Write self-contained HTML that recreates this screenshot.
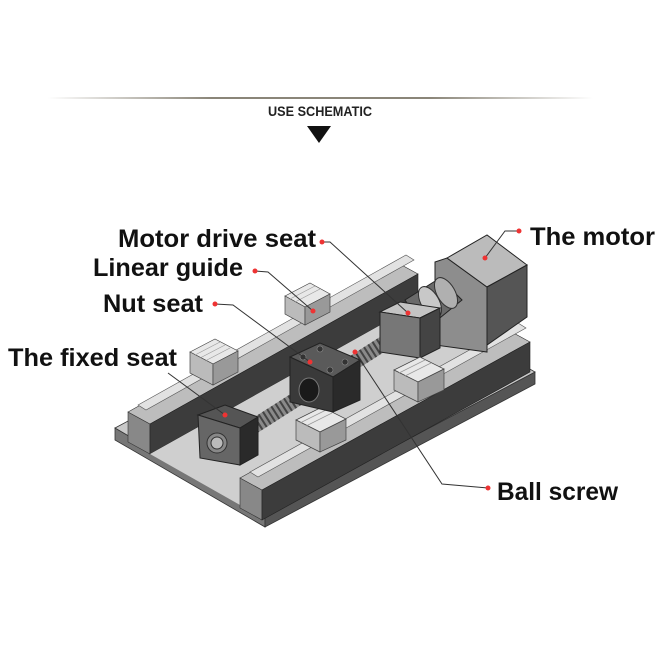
<!DOCTYPE html>
<html><head><meta charset="utf-8"><style>
html,body{margin:0;padding:0;background:#fff;}
svg{display:block}
.t{font-family:"Liberation Sans",sans-serif;font-weight:bold;fill:#111;}
.ld{stroke:#333;stroke-width:1;fill:none}
.dot{fill:#e33}
</style></head><body>
<svg width="672" height="672" viewBox="0 0 672 672" xmlns="http://www.w3.org/2000/svg">
<defs>
<linearGradient id="hl" x1="0" x2="1"><stop offset="0" stop-color="#fff"/><stop offset="0.3" stop-color="#8a8578"/><stop offset="0.7" stop-color="#8a8578"/><stop offset="1" stop-color="#fff"/></linearGradient>
</defs>
<rect x="48" y="97" width="545" height="2" fill="url(#hl)"/>
<text x="268" y="116" class="t" font-size="14" textLength="104" lengthAdjust="spacingAndGlyphs" style="fill:#222">USE SCHEMATIC</text>
<polygon points="307,126 331,126 319,143" fill="#111"/>

<!-- base plate -->
<polygon points="115,428 265,515 265,527 115,440" fill="#777" stroke="#333" stroke-width="0.8"/>
<polygon points="265,515 535,372 535,384 265,527" fill="#555" stroke="#333" stroke-width="0.8"/>
<polygon points="115,428 383,285 535,372 265,515" fill="#c9c9c9" stroke="#333" stroke-width="0.8"/>
<!-- back support -->
<polygon points="128,412 150,424 150,454 128,442" fill="#888" stroke="#333" stroke-width="0.6"/>
<polygon points="128,412 396,262 418,274 150,424" fill="#bdbdbd" stroke="#333" stroke-width="0.6"/>
<polygon points="150,424 418,274 418,304 150,454" fill="#3c3c3c" stroke="#222" stroke-width="0.6"/>
<!-- inner floor -->
<polygon points="150,454 418,304 505,354 240,505" fill="#cfcfcf"/>
<!-- front support -->
<polygon points="240,478 262,490 262,520 240,508" fill="#888" stroke="#333" stroke-width="0.6"/>
<polygon points="240,478 508,330 530,342 262,490" fill="#bdbdbd" stroke="#333" stroke-width="0.6"/>
<polygon points="262,490 530,342 530,372 262,520" fill="#3c3c3c" stroke="#222" stroke-width="0.6"/>
<!-- rails -->
<polygon points="138,405 406,255 414,260 146,410" fill="#e2e2e2" stroke="#555" stroke-width="0.6"/>
<polygon points="250,472 518,323 526,328 258,477" fill="#e2e2e2" stroke="#555" stroke-width="0.6"/>
<!-- motor -->
<polygon points="435,262 447,258 487,287 487,352 435,345" fill="#8d8d8d" stroke="#222"/>
<polygon points="447,258 487,235 527,265 487,287" fill="#bbb" stroke="#222"/>
<polygon points="487,287 527,265 527,317 487,345" fill="#555" stroke="#222"/>
<!-- coupling -->
<polygon points="405,300 440,278 462,300 425,330" fill="#6a6a6a" stroke="#222"/>
<ellipse cx="430" cy="302" rx="9" ry="17" fill="#c8c8c8" stroke="#333" transform="rotate(-30 430 302)"/>
<ellipse cx="446" cy="293" rx="9" ry="17" fill="#b0b0b0" stroke="#333" transform="rotate(-30 446 293)"/>
<!-- screw -->
<line x1="245" y1="432" x2="400" y2="333" stroke="#8a8a8a" stroke-width="15" stroke-linecap="round"/>
<line x1="245" y1="432" x2="400" y2="333" stroke="#444" stroke-width="15" stroke-dasharray="2 3"/>
<!-- drive seat -->
<polygon points="380,312 400,302 440,308 420,318" fill="#c4c4c4" stroke="#222"/>
<polygon points="380,312 420,318 420,358 380,352" fill="#777" stroke="#222"/>
<polygon points="420,318 440,308 440,348 420,358" fill="#444" stroke="#222"/>
<!-- blocks on rails -->
<g stroke="#444" stroke-width="0.7">
<polygon points="285,296 310,283 330,294 305,307" fill="#e8e8e8"/><polygon points="285,296 305,307 305,325 285,314" fill="#bbb"/><polygon points="305,307 330,294 330,312 305,325" fill="#999"/>
<polygon points="190,352 215,339 238,351 213,364" fill="#e8e8e8"/><polygon points="190,352 213,364 213,385 190,373" fill="#bbb"/><polygon points="213,364 238,351 238,372 213,385" fill="#999"/>
<polygon points="296,420 322,407 346,419 320,432" fill="#e8e8e8"/><polygon points="296,420 320,432 320,452 296,440" fill="#bbb"/><polygon points="320,432 346,419 346,440 320,452" fill="#999"/>
<polygon points="394,370 420,357 444,369 418,382" fill="#e8e8e8"/><polygon points="394,370 418,382 418,402 394,390" fill="#bbb"/><polygon points="418,382 444,369 444,390 418,402" fill="#999"/>
<path d="M195,355 L220,342 M200,358 L225,345 M205,361 L230,348 M290,299 L315,286 M295,302 L320,289 M300,423 L326,410 M306,426 L332,413 M399,373 L425,360 M405,376 L431,363" stroke="#999" fill="none"/>
</g>
<!-- nut seat -->
<polygon points="290,357 320,343 360,360 333,377" fill="#5a5a5a" stroke="#222"/>
<polygon points="290,357 333,377 333,412 290,402" fill="#3a3a3a" stroke="#222"/>
<polygon points="333,377 360,360 360,400 333,412" fill="#2a2a2a" stroke="#222"/>
<ellipse cx="309" cy="390" rx="10" ry="12" fill="#1a1a1a" stroke="#777"/>
<g fill="#333" stroke="#888" stroke-width="0.6"><circle cx="303" cy="357" r="3"/><circle cx="320" cy="349" r="3"/><circle cx="345" cy="362" r="3"/><circle cx="330" cy="370" r="3"/></g>
<!-- fixed seat -->
<polygon points="198,415 225,405 258,417 240,428" fill="#555" stroke="#222"/>
<polygon points="198,415 240,428 240,465 200,458" fill="#666" stroke="#222"/>
<polygon points="240,428 258,417 258,455 240,465" fill="#2a2a2a" stroke="#222"/>
<circle cx="217" cy="443" r="10" fill="#888" stroke="#333"/>
<circle cx="217" cy="443" r="6" fill="#bbb" stroke="#333"/>

<!-- labels -->
<text x="118" y="247" class="t" font-size="25" textLength="198" lengthAdjust="spacingAndGlyphs">Motor drive seat</text>
<text x="530" y="245" class="t" font-size="25" textLength="125" lengthAdjust="spacingAndGlyphs">The motor</text>
<text x="93" y="276" class="t" font-size="25" textLength="150" lengthAdjust="spacingAndGlyphs">Linear guide</text>
<text x="103" y="312" class="t" font-size="25" textLength="100" lengthAdjust="spacingAndGlyphs">Nut seat</text>
<text x="8" y="366" class="t" font-size="25" textLength="169" lengthAdjust="spacingAndGlyphs">The fixed seat</text>
<text x="497" y="500" class="t" font-size="25" textLength="121" lengthAdjust="spacingAndGlyphs">Ball screw</text>

<polyline class="ld" points="322,242 330,242 408,313"/><circle class="dot" cx="322" cy="242" r="2.5"/><circle class="dot" cx="408" cy="313" r="2.5"/>
<polyline class="ld" points="519,231 505,231 485,258"/><circle class="dot" cx="519" cy="231" r="2.5"/><circle class="dot" cx="485" cy="258" r="2.5"/>
<polyline class="ld" points="255,271 268,272 313,311"/><circle class="dot" cx="255" cy="271" r="2.5"/><circle class="dot" cx="313" cy="311" r="2.5"/>
<polyline class="ld" points="215,304 233,305 310,362"/><circle class="dot" cx="215" cy="304" r="2.5"/><circle class="dot" cx="310" cy="362" r="2.5"/>
<polyline class="ld" points="168,373 225,415"/><circle class="dot" cx="225" cy="415" r="2.5"/>
<polyline class="ld" points="355,352 442,484 488,488"/><circle class="dot" cx="355" cy="352" r="2.5"/><circle class="dot" cx="488" cy="488" r="2.5"/>
</svg>
</body></html>
